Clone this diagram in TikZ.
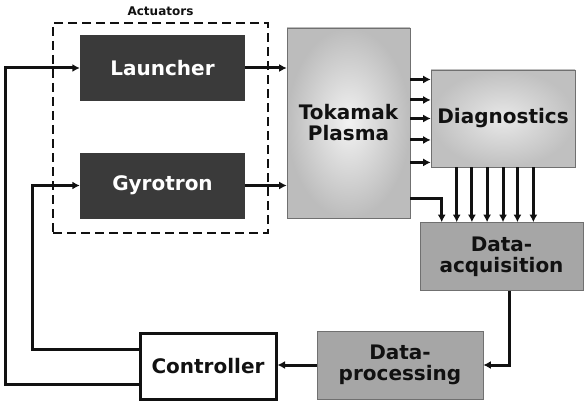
\documentclass[tikz,border=0pt]{standalone}
\usepackage{fontspec}
\setmainfont{DejaVu Sans}
\usetikzlibrary{arrows.meta,positioning,calc}
\definecolor{ink}{HTML}{111111}
\definecolor{dark}{HTML}{3A3A3A}
\definecolor{plasma}{HTML}{BCBCBC}
\definecolor{glow}{HTML}{F2F2F2}
\definecolor{diagc}{HTML}{C0C0C0}
\definecolor{datac}{HTML}{A6A6A6}
\definecolor{rim}{HTML}{707070}
\tikzset{
  lbl/.style={font=\fontsize{20}{21}\selectfont\bfseries,align=center,inner sep=0pt,text=ink},
  act/.style={lbl,fill=dark,text=white,minimum width=165pt,minimum height=66pt},
  group/.style={draw=ink,dash pattern=on 9pt off 5pt,line width=2.6pt,
    minimum width=215pt,minimum height=210pt},
  tok/.style={lbl,draw=rim,line width=0.6pt,inner color=glow,outer color=plasma,
    minimum width=123pt,minimum height=190pt},
  diagbox/.style={lbl,draw=rim,line width=0.6pt,inner color=glow!80!diagc,outer color=diagc,
    minimum width=144pt,minimum height=97pt},
  data/.style={lbl,draw=rim,line width=0.6pt,fill=datac,minimum width=#1,minimum height=68pt},
  data/.default=164pt,
  ctl/.style={lbl,draw=ink,line width=3pt,fill=white,minimum width=136pt,minimum height=66pt},
  arr/.style={-{Latex[length=7.5pt,width=8pt]},line width=3pt,draw=ink},
}
\begin{document}
\begin{tikzpicture}[x=1pt,y=-1pt]
  \useasboundingbox (0,0) rectangle (584,404);
  % actuators
  \node[group] (actuators) at (160.5,128) {};
  \node[font=\fontsize{12}{12}\selectfont\bfseries,text=ink,above=2pt of actuators.north] (actlabel) {Actuators};
  \node[act] (launcher) at (162.5,68) {Launcher};
  \node[act] (gyrotron) at (162.5,185.5) {Gyrotron};
  % plant and measurement chain
  \node[tok] (tokamak) at (348.5,123) {Tokamak\\Plasma};
  \node[diagbox] (diag) at (503,118.5) {Diagnostics};
  \node[data=163pt] (daq) at (501.5,256.5) {Data-\\acquisition};
  \node[data=166pt] (dproc) at (400,365) {Data-\\processing};
  \node[ctl] (ctrl) at (208,366) {Controller};
  % connectors
  \draw[arr] (launcher.east) -- (launcher.east -| tokamak.west);
  \draw[arr] (gyrotron.east) -- (gyrotron.east -| tokamak.west);
  \foreach \f [count=\i] in {0.1,0.31,0.5,0.72,0.95} {
    \coordinate (in\i) at ($(diag.north west)!\f!(diag.south west)$);
    \draw[arr] (in\i -| tokamak.east) -- (in\i);
  }
  \foreach \f [count=\i] in {0.18,0.285,0.39,0.5,0.6,0.71} {
    \coordinate (out\i) at ($(diag.south west)!\f!(diag.south east)$);
    \draw[arr] (out\i) -- (out\i |- daq.north);
  }
  \draw[arr] ([yshift=-75pt]tokamak.east) -| ([xshift=22pt]daq.north west);
  \draw[arr] ([xshift=7.5pt]daq.south) |- (dproc.east);
  \draw[arr] (dproc.west) -- (dproc.west -| ctrl.east);
  \draw[arr] ([yshift=17pt]ctrl.west) -- ++(-106,0) |- (gyrotron.west);
  \draw[arr] ([yshift=-18pt]ctrl.west) -- ++(-133,0) |- (launcher.west);
\end{tikzpicture}
\end{document}
